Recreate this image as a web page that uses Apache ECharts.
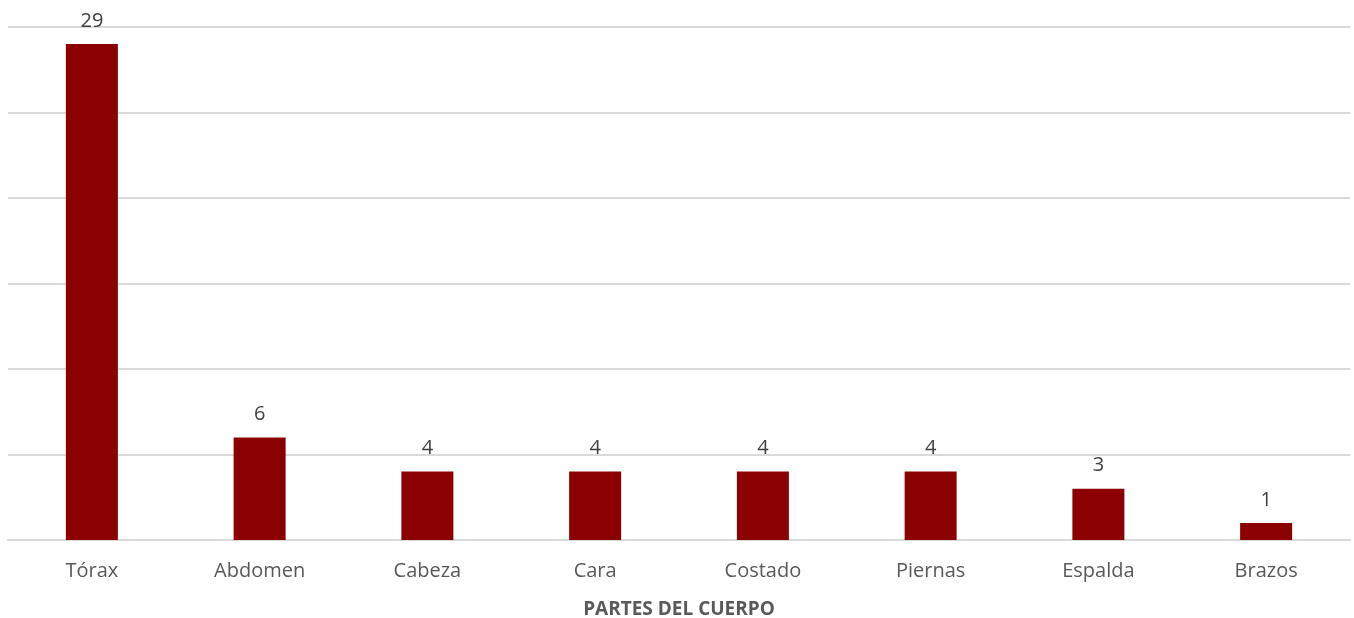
<!DOCTYPE html>
<html><head><meta charset="utf-8">
<script src="https://cdn.jsdelivr.net/npm/echarts@6/dist/echarts.min.js"></script>
<style>html,body{margin:0;padding:0;background:#fff}#c{width:1354px;height:618px}</style>
</head><body><div id="c"></div>
<script>
const categories = ["Tórax","Abdomen","Cabeza","Cara","Costado","Piernas","Espalda","Brazos"];
const values = [29,6,4,4,4,4,3,1];
const axisTitle = "PARTES DEL CUERPO";
const chart = echarts.init(document.getElementById('c'));
chart.setOption({
  animation:false,
  grid:{left:8,right:4,top:27,bottom:78,containLabel:false,outerBoundsMode:'none'},
  xAxis:{type:'category',data:categories,
    name:axisTitle,nameLocation:'middle',nameGap:60,
    nameTextStyle:{fontFamily:'Open Sans',fontSize:19,fontWeight:'bold',color:'#595959'},
    axisLine:{lineStyle:{color:'#d9d9d9',width:2}},axisTick:{show:false},
    axisLabel:{fontFamily:'Open Sans',fontSize:20,color:'#595959',margin:21}},
  yAxis:{type:'value',min:0,max:30,interval:5,axisLabel:{show:false},
    axisLine:{show:false},axisTick:{show:false},
    splitLine:{lineStyle:{color:'#d9d9d9',width:2}}},
  series:[{type:'bar',data:values,barWidth:52,
    itemStyle:{color:'#8b0000'},
    label:{show:true,position:'top',distance:13,fontFamily:'Open Sans',fontSize:20,color:'#404040'}}]
});
</script></body></html>
